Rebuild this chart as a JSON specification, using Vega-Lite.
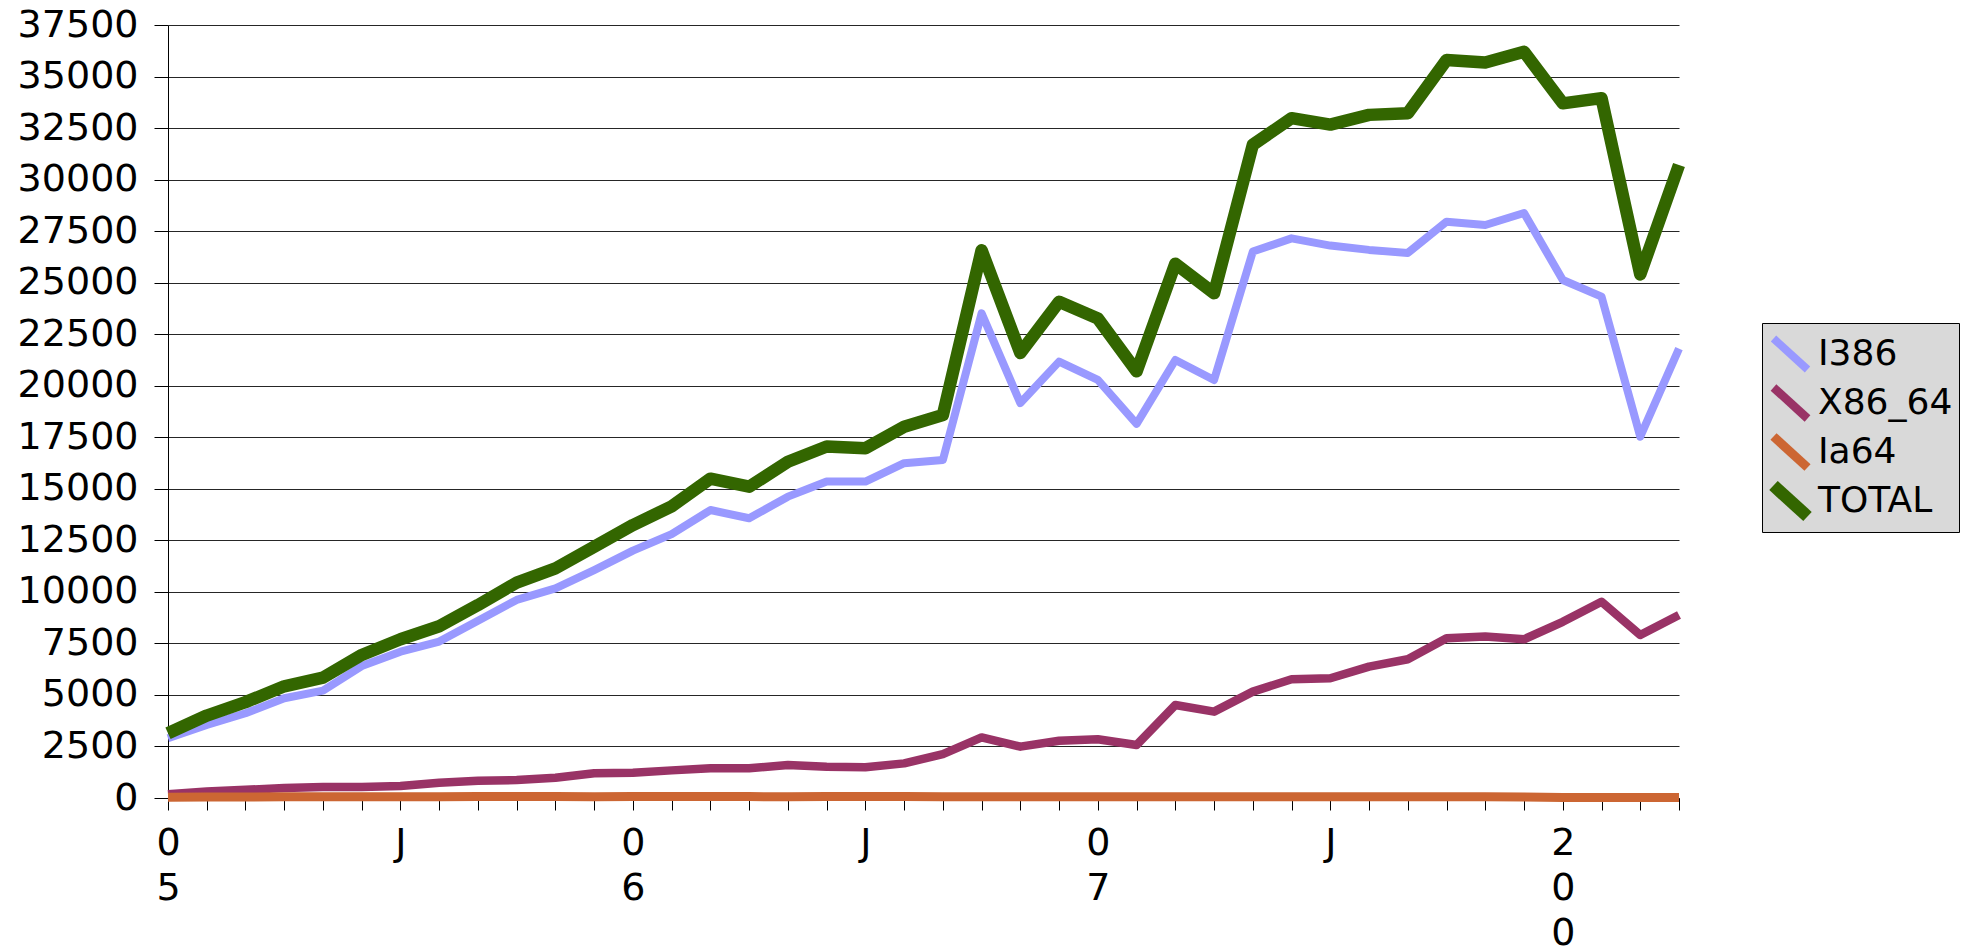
{
  "$schema": "https://vega.github.io/schema/vega-lite/v6.json",
  "autosize": {"type": "none"},
  "width": 1511,
  "height": 773,
  "padding": {"left": 168, "top": 25, "right": 283, "bottom": 148},
  "background": "white",
  "config": {
    "font": "DejaVu Sans",
    "view": {"stroke": null},
    "axis": {"labelFont": "DejaVu Sans", "labelColor": "black", "domainColor": "black", "tickColor": "black"}
  },
  "data": {
    "values": [
      {"m":"2005-01","s":"I386","v":2900},{"m":"2005-02","s":"I386","v":3540},{"m":"2005-03","s":"I386","v":4110},{"m":"2005-04","s":"I386","v":4840},{"m":"2005-05","s":"I386","v":5210},{"m":"2005-06","s":"I386","v":6400},{"m":"2005-07","s":"I386","v":7100},{"m":"2005-08","s":"I386","v":7590},{"m":"2005-09","s":"I386","v":8600},{"m":"2005-10","s":"I386","v":9610},{"m":"2005-11","s":"I386","v":10170},{"m":"2005-12","s":"I386","v":11060},
      {"m":"2006-01","s":"I386","v":12000},{"m":"2006-02","s":"I386","v":12800},{"m":"2006-03","s":"I386","v":13970},{"m":"2006-04","s":"I386","v":13570},{"m":"2006-05","s":"I386","v":14620},{"m":"2006-06","s":"I386","v":15350},{"m":"2006-07","s":"I386","v":15350},{"m":"2006-08","s":"I386","v":16240},{"m":"2006-09","s":"I386","v":16400},{"m":"2006-10","s":"I386","v":23510},{"m":"2006-11","s":"I386","v":19160},{"m":"2006-12","s":"I386","v":21170},
      {"m":"2007-01","s":"I386","v":20280},{"m":"2007-02","s":"I386","v":18150},{"m":"2007-03","s":"I386","v":21250},{"m":"2007-04","s":"I386","v":20280},{"m":"2007-05","s":"I386","v":26510},{"m":"2007-06","s":"I386","v":27150},{"m":"2007-07","s":"I386","v":26800},{"m":"2007-08","s":"I386","v":26590},{"m":"2007-09","s":"I386","v":26440},{"m":"2007-10","s":"I386","v":27960},{"m":"2007-11","s":"I386","v":27800},{"m":"2007-12","s":"I386","v":28380},
      {"m":"2008-01","s":"I386","v":25130},{"m":"2008-02","s":"I386","v":24320},{"m":"2008-03","s":"I386","v":17530},{"m":"2008-04","s":"I386","v":21800},

      {"m":"2005-01","s":"X86_64","v":180},{"m":"2005-02","s":"X86_64","v":310},{"m":"2005-03","s":"X86_64","v":400},{"m":"2005-04","s":"X86_64","v":480},{"m":"2005-05","s":"X86_64","v":530},{"m":"2005-06","s":"X86_64","v":530},{"m":"2005-07","s":"X86_64","v":580},{"m":"2005-08","s":"X86_64","v":740},{"m":"2005-09","s":"X86_64","v":840},{"m":"2005-10","s":"X86_64","v":870},{"m":"2005-11","s":"X86_64","v":980},{"m":"2005-12","s":"X86_64","v":1200},
      {"m":"2006-01","s":"X86_64","v":1230},{"m":"2006-02","s":"X86_64","v":1340},{"m":"2006-03","s":"X86_64","v":1440},{"m":"2006-04","s":"X86_64","v":1440},{"m":"2006-05","s":"X86_64","v":1600},{"m":"2006-06","s":"X86_64","v":1520},{"m":"2006-07","s":"X86_64","v":1490},{"m":"2006-08","s":"X86_64","v":1680},{"m":"2006-09","s":"X86_64","v":2130},{"m":"2006-10","s":"X86_64","v":2940},{"m":"2006-11","s":"X86_64","v":2490},{"m":"2006-12","s":"X86_64","v":2780},
      {"m":"2007-01","s":"X86_64","v":2850},{"m":"2007-02","s":"X86_64","v":2570},{"m":"2007-03","s":"X86_64","v":4510},{"m":"2007-04","s":"X86_64","v":4190},{"m":"2007-05","s":"X86_64","v":5160},{"m":"2007-06","s":"X86_64","v":5760},{"m":"2007-07","s":"X86_64","v":5810},{"m":"2007-08","s":"X86_64","v":6370},{"m":"2007-09","s":"X86_64","v":6730},{"m":"2007-10","s":"X86_64","v":7750},{"m":"2007-11","s":"X86_64","v":7830},{"m":"2007-12","s":"X86_64","v":7700},
      {"m":"2008-01","s":"X86_64","v":8550},{"m":"2008-02","s":"X86_64","v":9520},{"m":"2008-03","s":"X86_64","v":7910},{"m":"2008-04","s":"X86_64","v":8880},

      {"m":"2005-01","s":"Ia64","v":40},{"m":"2005-02","s":"Ia64","v":50},{"m":"2005-03","s":"Ia64","v":50},{"m":"2005-04","s":"Ia64","v":60},{"m":"2005-05","s":"Ia64","v":60},{"m":"2005-06","s":"Ia64","v":60},{"m":"2005-07","s":"Ia64","v":60},{"m":"2005-08","s":"Ia64","v":60},{"m":"2005-09","s":"Ia64","v":70},{"m":"2005-10","s":"Ia64","v":70},{"m":"2005-11","s":"Ia64","v":70},{"m":"2005-12","s":"Ia64","v":60},
      {"m":"2006-01","s":"Ia64","v":70},{"m":"2006-02","s":"Ia64","v":70},{"m":"2006-03","s":"Ia64","v":70},{"m":"2006-04","s":"Ia64","v":70},{"m":"2006-05","s":"Ia64","v":60},{"m":"2006-06","s":"Ia64","v":70},{"m":"2006-07","s":"Ia64","v":70},{"m":"2006-08","s":"Ia64","v":70},{"m":"2006-09","s":"Ia64","v":60},{"m":"2006-10","s":"Ia64","v":60},{"m":"2006-11","s":"Ia64","v":60},{"m":"2006-12","s":"Ia64","v":60},
      {"m":"2007-01","s":"Ia64","v":60},{"m":"2007-02","s":"Ia64","v":60},{"m":"2007-03","s":"Ia64","v":60},{"m":"2007-04","s":"Ia64","v":60},{"m":"2007-05","s":"Ia64","v":60},{"m":"2007-06","s":"Ia64","v":60},{"m":"2007-07","s":"Ia64","v":60},{"m":"2007-08","s":"Ia64","v":60},{"m":"2007-09","s":"Ia64","v":60},{"m":"2007-10","s":"Ia64","v":60},{"m":"2007-11","s":"Ia64","v":60},{"m":"2007-12","s":"Ia64","v":50},
      {"m":"2008-01","s":"Ia64","v":30},{"m":"2008-02","s":"Ia64","v":30},{"m":"2008-03","s":"Ia64","v":30},{"m":"2008-04","s":"Ia64","v":30},

      {"m":"2005-01","s":"TOTAL","v":3140},{"m":"2005-02","s":"TOTAL","v":4000},{"m":"2005-03","s":"TOTAL","v":4650},{"m":"2005-04","s":"TOTAL","v":5420},{"m":"2005-05","s":"TOTAL","v":5840},{"m":"2005-06","s":"TOTAL","v":6940},{"m":"2005-07","s":"TOTAL","v":7700},{"m":"2005-08","s":"TOTAL","v":8330},{"m":"2005-09","s":"TOTAL","v":9360},{"m":"2005-10","s":"TOTAL","v":10450},{"m":"2005-11","s":"TOTAL","v":11140},{"m":"2005-12","s":"TOTAL","v":12190},
      {"m":"2006-01","s":"TOTAL","v":13240},{"m":"2006-02","s":"TOTAL","v":14150},{"m":"2006-03","s":"TOTAL","v":15490},{"m":"2006-04","s":"TOTAL","v":15100},{"m":"2006-05","s":"TOTAL","v":16310},{"m":"2006-06","s":"TOTAL","v":17050},{"m":"2006-07","s":"TOTAL","v":16970},{"m":"2006-08","s":"TOTAL","v":18010},{"m":"2006-09","s":"TOTAL","v":18580},{"m":"2006-10","s":"TOTAL","v":26570},{"m":"2006-11","s":"TOTAL","v":21590},{"m":"2006-12","s":"TOTAL","v":24070},
      {"m":"2007-01","s":"TOTAL","v":23260},{"m":"2007-02","s":"TOTAL","v":20700},{"m":"2007-03","s":"TOTAL","v":25920},{"m":"2007-04","s":"TOTAL","v":24490},{"m":"2007-05","s":"TOTAL","v":31690},{"m":"2007-06","s":"TOTAL","v":32980},{"m":"2007-07","s":"TOTAL","v":32670},{"m":"2007-08","s":"TOTAL","v":33140},{"m":"2007-09","s":"TOTAL","v":33220},{"m":"2007-10","s":"TOTAL","v":35800},{"m":"2007-11","s":"TOTAL","v":35680},{"m":"2007-12","s":"TOTAL","v":36200},
      {"m":"2008-01","s":"TOTAL","v":33700},{"m":"2008-02","s":"TOTAL","v":33950},{"m":"2008-03","s":"TOTAL","v":25400},{"m":"2008-04","s":"TOTAL","v":30710}
    ]
  },
  "mark": {"type": "line", "strokeJoin": "round", "strokeCap": "butt"},
  "encoding": {
    "x": {
      "field": "m",
      "type": "ordinal",
      "scale": {"type": "point", "padding": 0},
      "axis": {
        "title": null,
        "labelAngle": 0,
        "labelFontSize": 38,
        "labelLineHeight": 45,
        "labelOverlap": false,
        "labelPadding": 14,
        "tickSize": 12,
        "tickWidth": 1,
        "domainWidth": 1,
        "grid": false,
        "labelExpr": "substring(datum.value,5,7)=='01' ? (datum.value=='2008-01' ? ['2','0','0','8'] : ['0', substring(datum.value,3,4)]) : (substring(datum.value,5,7)=='07' ? 'J' : '')"
      }
    },
    "y": {
      "field": "v",
      "type": "quantitative",
      "scale": {"domain": [0, 37500], "nice": false},
      "axis": {
        "title": null,
        "values": [0,2500,5000,7500,10000,12500,15000,17500,20000,22500,25000,27500,30000,32500,35000,37500],
        "format": "d",
        "labelFontSize": 38,
        "labelPadding": 16,
        "tickSize": 14,
        "grid": true,
        "gridColor": "black",
        "gridOpacity": 0.85,
        "gridWidth": 1,
        "domainWidth": 1
      }
    },
    "color": {
      "field": "s",
      "type": "nominal",
      "scale": {"domain": ["I386", "X86_64", "Ia64", "TOTAL"], "range": ["#9999ff", "#993366", "#cc6633", "#336600"]},
      "legend": {
        "title": null,
        "orient": "none",
        "legendX": 1594,
        "legendY": 298,
        "fillColor": "#d9d9d9",
        "strokeColor": "black",
        "padding": 6.5,
        "symbolType": "M-1.7,-1.55L1.7,1.55",
        "symbolSize": 400,
        "symbolOffset": 4,
        "clipHeight": 49,
        "labelFontSize": 36,
        "labelColor": "black",
        "labelOffset": 9.5,
        "rowPadding": 0,
        "labelLimit": 400
      }
    },
    "strokeWidth": {
      "field": "s",
      "type": "nominal",
      "scale": {"type": "ordinal", "domain": ["I386", "X86_64", "Ia64", "TOTAL"], "range": [8, 8.5, 9, 12.5]},
      "legend": {
        "title": null,
        "orient": "none",
        "legendX": 1594,
        "legendY": 298,
        "fillColor": "#d9d9d9",
        "strokeColor": "black",
        "padding": 6.5,
        "symbolType": "M-1.7,-1.55L1.7,1.55",
        "symbolSize": 400,
        "symbolOffset": 4,
        "clipHeight": 49,
        "labelFontSize": 36,
        "labelColor": "black",
        "labelOffset": 9.5,
        "rowPadding": 0,
        "labelLimit": 400
      }
    },
    "order": {"field": "m"}
  }
}
